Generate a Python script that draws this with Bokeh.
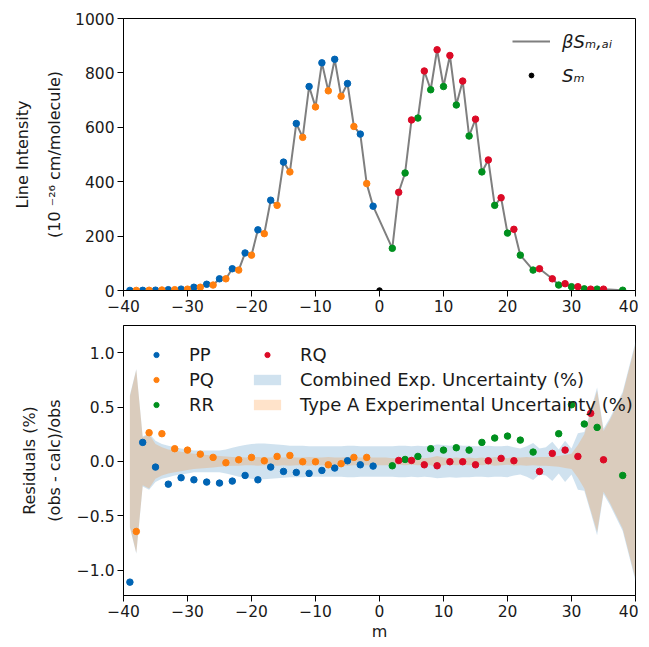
from bokeh.plotting import figure
from bokeh.layouts import column
from bokeh.models import Range1d, FixedTicker, CustomJSTickFormatter, Legend, LegendItem
from bokeh.embed import file_html
from bokeh.resources import INLINE

# ---------------- data ----------------
m_PP = [-39, -37, -35, -33, -31, -29, -27, -25, -23, -21, -19, -17, -15, -13, -11, -9, -7, -5, -3, -1]
S_PP = [0.3, 0.6, 1.2, 3, 5, 12, 23, 43, 80, 138, 223, 332, 472, 614, 750, 837, 850, 761, 575, 310]
res_PP = [-1.11, 0.175, -0.052, -0.209, -0.150, -0.169, -0.190, -0.199, -0.181, -0.129,
          -0.169, -0.052, -0.092, -0.101, -0.110, -0.083, -0.061, 0.006, -0.031, -0.043]

m_PQ = [-38, -36, -34, -32, -30, -28, -26, -24, -22, -20, -18, -16, -14, -12, -10, -8, -6, -4, -2]
S_PQ = [0.4, 0.9, 1.8, 3, 5, 12, 20, 43, 75, 130, 209, 313, 436, 563, 675, 734, 714, 603, 393]
res_PQ = [-0.644, 0.264, 0.255, 0.117, 0.104, 0.067, 0.037, -0.012, 0.015, 0.037,
          0.006, 0.046, 0.055, -0.003, -0.003, -0.031, -0.021, 0.037, 0.037]

m_RR = [2, 4, 6, 8, 10, 12, 14, 16, 18, 20, 22, 24, 28, 30, 32, 34, 38]
S_RR = [155, 432, 634, 738, 750, 682, 568, 436, 313, 211, 130, 75, 20, 14, 6, 5, 1]
res_RR = [-0.040, 0.018, 0.046, 0.117, 0.104, 0.126, 0.104, 0.175, 0.215, 0.233,
          0.196, 0.086, 0.255, 0.521, 0.344, 0.313, -0.129]

m_RQ = [3, 5, 7, 9, 11, 13, 15, 17, 19, 21, 25, 27, 29, 31, 33, 35]
S_RQ = [361, 627, 807, 885, 864, 770, 630, 480, 341, 225, 80, 43, 25, 14, 5, 5]
res_RQ = [0.009, 0.009, -0.031, -0.040, -0.003, -0.003, -0.031, 0.006, 0.028, 0.006,
          -0.092, 0.074, 0.104, 0.046, 0.442, 0.015]

# uncertainty bands (half widths, %)
m_band = list(range(-39, 42))
typeA_unc = [0.60, 0.84, 0.22, 0.25, 0.16, 0.13, 0.11, 0.10, 0.09, 0.08,
             0.07, 0.065, 0.06, 0.055, 0.05, 0.045, 0.04, 0.04, 0.035, 0.035,
             0.04, 0.035, 0.035, 0.04, 0.035, 0.04, 0.035, 0.035, 0.04, 0.035,
             0.035, 0.04, 0.035, 0.035, 0.04, 0.035, 0.035, 0.035, 0.035, 0.035,
             0.035, 0.03, 0.03, 0.035, 0.03, 0.035, 0.03, 0.035, 0.05, 0.035,
             0.03, 0.035, 0.03, 0.035, 0.03, 0.035, 0.03, 0.04, 0.035, 0.03,
             0.04, 0.035, 0.04, 0.035, 0.04, 0.04, 0.045, 0.05, 0.06, 0.07,
             0.15, 0.25, 0.45, 0.65, 0.28, 0.38, 0.50, 0.62, 0.85, 1.08, 1.30]
comb_unc = [0.61, 0.85, 0.23, 0.26, 0.19, 0.16, 0.145, 0.13, 0.12, 0.11,
            0.10, 0.10, 0.10, 0.10, 0.10, 0.11, 0.125, 0.14, 0.15, 0.16,
            0.165, 0.165, 0.16, 0.155, 0.15, 0.145, 0.145, 0.145, 0.14, 0.14,
            0.14, 0.14, 0.14, 0.14, 0.145, 0.145, 0.14, 0.14, 0.14, 0.14,
            0.14, 0.14, 0.145, 0.145, 0.14, 0.145, 0.14, 0.145, 0.155, 0.15,
            0.145, 0.15, 0.145, 0.145, 0.14, 0.14, 0.145, 0.14, 0.14, 0.145,
            0.13, 0.12, 0.14, 0.17, 0.12, 0.13, 0.18, 0.11, 0.19, 0.12,
            0.26, 0.27, 0.47, 0.68, 0.30, 0.40, 0.52, 0.64, 0.87, 1.10, 1.32]

x_ticks = [-40, -30, -20, -10, 0, 10, 20, 30, 40]
top_y_ticks = [0, 200, 400, 600, 800, 1000]
bot_y_ticks = [-1.0, -0.5, 0.0, 0.5, 1.0]

C_PP, C_PQ, C_RR, C_RQ = "#0064b4", "#ff7f0e", "#00901e", "#dc0a26"
FONT = "DejaVu Sans"

# all lines sorted by m for the calculated intensity line
all_pts = sorted(zip(m_PP + m_PQ + m_RR + m_RQ, S_PP + S_PQ + S_RR + S_RQ))
m_all = [a for a, b in all_pts]
S_all = [b for a, b in all_pts]

x_fmt = CustomJSTickFormatter(code="return (tick < 0 ? '\u2212' : '') + Math.abs(tick).toFixed(0);")


def style(p):
    p.outline_line_color = "black"
    p.outline_line_width = 1
    p.outline_line_alpha = 1
    p.xgrid.visible = False
    p.ygrid.visible = False
    p.background_fill_color = "white"
    p.border_fill_color = "white"
    for ax in (p.xaxis[0], p.yaxis[0]):
        ax.axis_line_color = "black"
        ax.major_tick_line_color = "black"
        ax.major_tick_out = 6
        ax.major_tick_in = 0
        ax.minor_tick_line_color = None
        ax.major_label_text_font = FONT
        ax.major_label_text_font_size = "15.5px"
        ax.major_label_text_color = "#1a1a1a"
        ax.major_label_standoff = 3
        ax.axis_label_text_font = FONT
        ax.axis_label_text_font_size = "16px"
        ax.axis_label_text_font_style = "normal"
        ax.axis_label_text_color = "#1a1a1a"
    p.xaxis[0].ticker = FixedTicker(ticks=x_ticks)
    p.xaxis[0].formatter = x_fmt


# ---------------- top plot ----------------
top = figure(width=638, height=325, x_range=Range1d(-40, 40), y_range=Range1d(0, 1000),
             output_backend="svg", toolbar_location=None,
             min_border_left=123, min_border_right=3, min_border_top=18, min_border_bottom=35)
style(top)
top.yaxis[0].ticker = FixedTicker(ticks=top_y_ticks)
top.yaxis[0].axis_label = "Line Intensity\n(10 \u207b\u00b2\u2076 cm/molecule)"
top.yaxis[0].axis_label_standoff = 8
top.yaxis[0].axis_label_text_line_height = 1.7

r_line = top.line(m_all, S_all, line_color="#7f7f7f", line_width=2)
top.scatter(m_PP, S_PP, size=6.5, fill_color=C_PP, line_color=C_PP)
top.scatter(m_PQ, S_PQ, size=6.5, fill_color=C_PQ, line_color=C_PQ)
top.scatter(m_RR, S_RR, size=6.5, fill_color=C_RR, line_color=C_RR)
top.scatter(m_RQ, S_RQ, size=6.5, fill_color=C_RQ, line_color=C_RQ)
r_sm = top.scatter([0], [0], size=5.5, fill_color="black", line_color="black")

leg_top = Legend(items=[LegendItem(label="\u03b2S\u2098,\u2090\u1d62", renderers=[r_line]),
                        LegendItem(label="S\u2098", renderers=[r_sm])],
                 location=(389, 200), orientation="vertical",
                 border_line_alpha=0, background_fill_alpha=0,
                 padding=0, margin=0, spacing=4,
                 glyph_width=38, glyph_height=12, label_height=30, label_standoff=12,
                 label_text_font=FONT, label_text_font_size="18px",
                 label_text_font_style="italic", label_text_color="#1a1a1a")
top.add_layout(leg_top, "center")

# ---------------- bottom plot ----------------
bot = figure(width=638, height=318, x_range=Range1d(-40, 40), y_range=Range1d(-1.233, 1.25),
             output_backend="svg", toolbar_location=None,
             min_border_left=123, min_border_right=3, min_border_top=0, min_border_bottom=47)
style(bot)
bot.yaxis[0].ticker = FixedTicker(ticks=bot_y_ticks)
bot.yaxis[0].formatter = CustomJSTickFormatter(code="return tick.toFixed(1).replace('-', '\u2212');")
bot.yaxis[0].axis_label = "Residuals (%)\n(obs - calc)/obs"
bot.yaxis[0].axis_label_standoff = 10
bot.yaxis[0].axis_label_text_line_height = 1.3
bot.xaxis[0].axis_label = "m"
bot.xaxis[0].axis_label_standoff = 2

comb_lo = [-v for v in comb_unc]
typeA_lo = [-v for v in typeA_unc]
r_comb = bot.varea(x=m_band, y1=comb_lo, y2=comb_unc, fill_color="#1f77b4", fill_alpha=0.21)
r_typeA = bot.varea(x=m_band, y1=typeA_lo, y2=typeA_unc, fill_color="#ff7f0e", fill_alpha=0.22)

r_pp = bot.scatter(m_PP, res_PP, size=6.5, fill_color=C_PP, line_color=C_PP)
r_pq = bot.scatter(m_PQ, res_PQ, size=6.5, fill_color=C_PQ, line_color=C_PQ)
r_rr = bot.scatter(m_RR, res_RR, size=6.5, fill_color=C_RR, line_color=C_RR)
r_rq = bot.scatter(m_RQ, res_RQ, size=6.5, fill_color=C_RQ, line_color=C_RQ)

leg_kw = dict(orientation="vertical", border_line_alpha=0, background_fill_alpha=0,
              padding=0, margin=0, spacing=3, glyph_width=34, glyph_height=13,
              label_height=22, label_standoff=16, label_text_font=FONT,
              label_text_font_size="18px", label_text_color="#1a1a1a")
leg1 = Legend(items=[LegendItem(label="PP", renderers=[r_pp]),
                     LegendItem(label="PQ", renderers=[r_pq]),
                     LegendItem(label="RR", renderers=[r_rr])],
              location=(16, 180), **leg_kw)
leg2 = Legend(items=[LegendItem(label="RQ", renderers=[r_rq]),
                     LegendItem(label="Combined Exp. Uncertainty (%)", renderers=[r_comb]),
                     LegendItem(label="Type A Experimental Uncertainty (%)", renderers=[r_typeA])],
              location=(127, 180), **leg_kw)
bot.add_layout(leg1, "center")
bot.add_layout(leg2, "center")

layout = column(top, bot, spacing=0)
open("out.html", "w").write(file_html(layout, INLINE))
